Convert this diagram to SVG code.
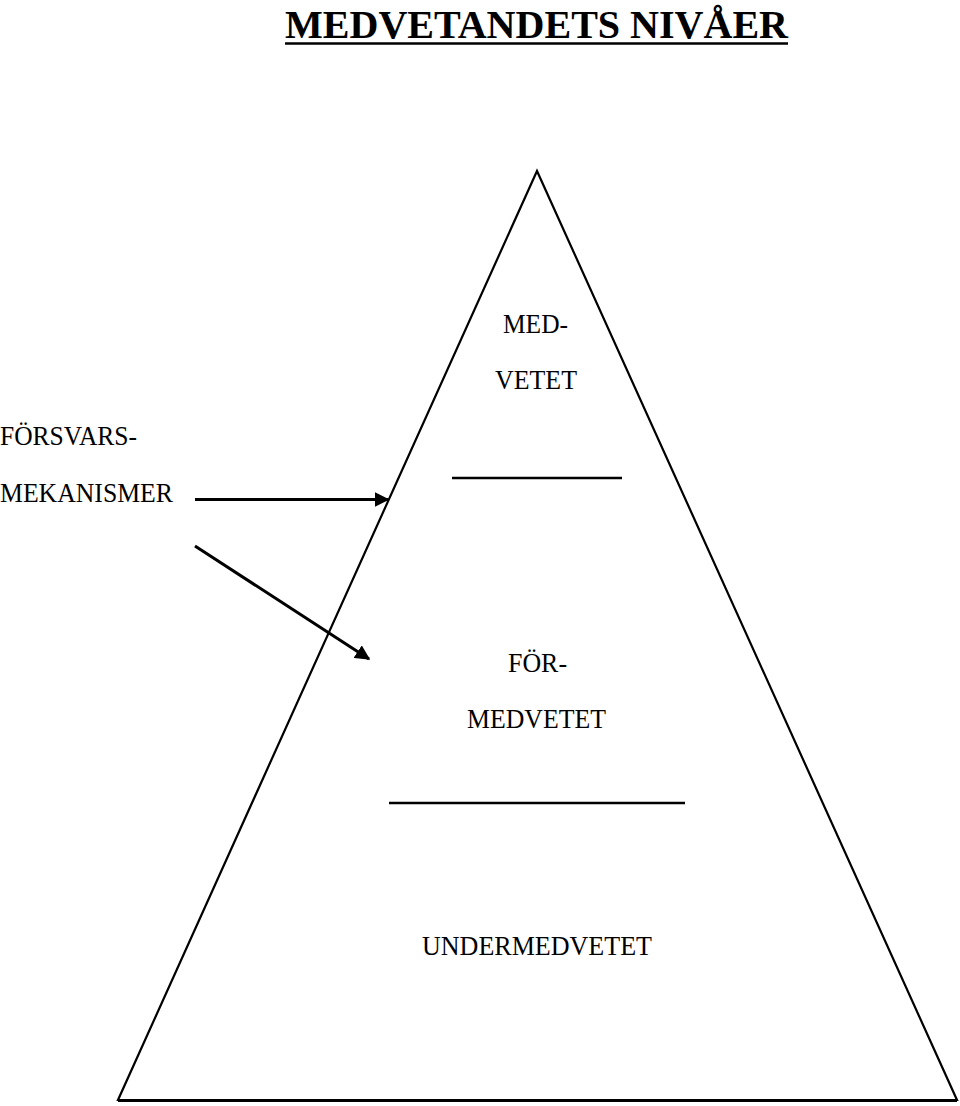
<svg xmlns="http://www.w3.org/2000/svg" width="960" height="1106" viewBox="0 0 960 1106">
<style>
.t{font-family:"Liberation Serif","Times New Roman",serif;fill:#000}
.lbl{font-size:27px}
.ln{stroke:#000;fill:none}
</style>
<defs>
<marker id="ah" markerWidth="5" markerHeight="5" refX="4.5" refY="2.5" orient="auto" markerUnits="strokeWidth">
<path d="M0,0 L5,2.5 L0,5 Z" fill="#000"/>
</marker>
</defs>
<rect width="960" height="1106" fill="#fff"/>
<g id="title">
<text class="t" x="285" y="38" font-size="40" font-weight="bold" textLength="503" lengthAdjust="spacingAndGlyphs">MEDVETANDETS NIVÅER</text>
<line class="ln" x1="285" y1="43.5" x2="788" y2="43.5" stroke-width="2.5"/>
</g>
<g id="pyramid">
<polygon class="ln" points="537,171 118,1100 957,1100" stroke-width="2.2" stroke-linejoin="miter"/>
<line class="ln" x1="118" y1="1100.5" x2="957" y2="1100.5" stroke-width="3"/>
</g>
<g id="medvetet">
<text class="t lbl" x="503" y="333" textLength="65" lengthAdjust="spacingAndGlyphs">MED-</text>
<text class="t lbl" x="495" y="389" textLength="82" lengthAdjust="spacingAndGlyphs">VETET</text>
<line class="ln" x1="452" y1="478" x2="622" y2="478" stroke-width="2.5"/>
</g>
<g id="formedvetet">
<text class="t lbl" x="508" y="672" textLength="59" lengthAdjust="spacingAndGlyphs">FÖR-</text>
<text class="t lbl" x="467" y="728" textLength="139" lengthAdjust="spacingAndGlyphs">MEDVETET</text>
<line class="ln" x1="389" y1="803" x2="685" y2="803" stroke-width="2.5"/>
</g>
<g id="undermedvetet">
<text class="t lbl" x="422" y="955" textLength="230" lengthAdjust="spacingAndGlyphs">UNDERMEDVETET</text>
</g>
<g id="forsvarsmekanismer">
<text class="t lbl" x="0" y="445" textLength="137" lengthAdjust="spacingAndGlyphs">FÖRSVARS-</text>
<text class="t lbl" x="0" y="502" textLength="173" lengthAdjust="spacingAndGlyphs">MEKANISMER</text>
</g>
<g id="connectors">
<line class="ln" x1="195" y1="499.5" x2="388" y2="499.5" stroke-width="3" marker-end="url(#ah)"/>
<line class="ln" x1="195" y1="546" x2="369" y2="659" stroke-width="3" marker-end="url(#ah)"/>
</g>
</svg>
